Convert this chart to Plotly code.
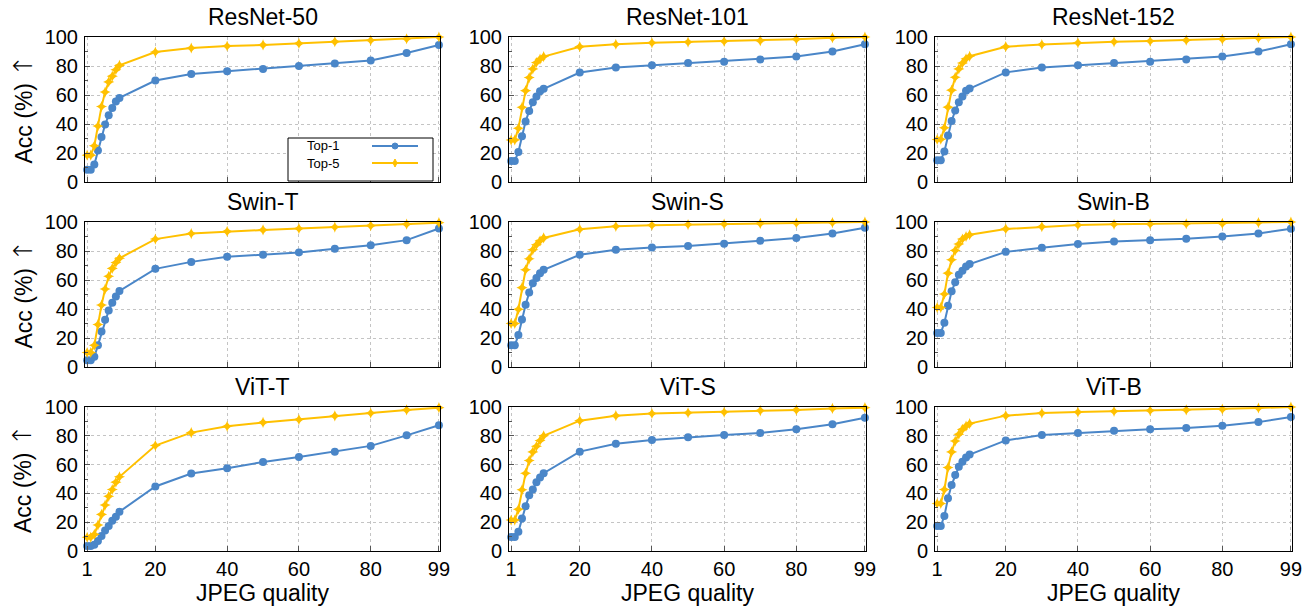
import plotly.graph_objects as go

quality = [1, 2, 3, 4, 5, 6, 7, 8, 9, 10, 20, 30, 40, 50, 60, 70, 80, 90, 99]

models = ["ResNet-50", "ResNet-101", "ResNet-152",
          "Swin-T", "Swin-S", "Swin-B",
          "ViT-T", "ViT-S", "ViT-B"]

resnet50_top1 = [8.5, 8.5, 12, 21.7, 31, 39.7, 46, 51, 55.5, 58, 70, 74.5, 76.4, 78, 80, 81.8, 83.8, 89, 94.5]
resnet50_top5 = [18.5, 18.5, 25, 38.6, 52, 62, 69, 73, 77.4, 80.4, 89.6, 92.4, 93.8, 94.5, 95.6, 96.8, 97.7, 98.8, 100]

resnet101_top1 = [14.5, 14.5, 20.7, 31.6, 41.8, 49, 55, 59, 62.6, 64.3, 75.5, 79, 80.5, 82, 83, 84.5, 86.5, 90, 95]
resnet101_top5 = [28.9, 29, 37, 51.5, 63, 72, 78, 82.4, 84.7, 86.5, 93.3, 95, 96, 96.5, 97, 97.5, 98.5, 99.5, 100]

resnet152_top1 = [15, 15, 21, 32, 42, 49.3, 55, 59, 63, 64.4, 75.6, 79, 80.5, 82, 83, 84.5, 86.5, 90, 95]
resnet152_top5 = [29.3, 29.5, 37.4, 51.6, 63.3, 72.2, 78, 82, 85, 86.7, 93.3, 94.8, 96, 96.7, 97.2, 97.8, 98.5, 99.3, 100]

swint_top1 = [4.6, 4.6, 7, 15, 24.5, 32.6, 39, 44.3, 48.7, 52.4, 67.7, 72.5, 76, 77.5, 79, 81.5, 84, 87.5, 95.5]
swint_top5 = [10, 10, 15, 29.3, 42.7, 53.8, 62.6, 68, 72, 75, 88.2, 92, 93.5, 94.5, 95.5, 96.5, 97.5, 98.5, 99.5]

swins_top1 = [15, 15, 22, 32.8, 43, 51.3, 57.7, 61.4, 64.7, 67, 77.4, 80.8, 82.5, 83.5, 85, 87, 89, 92, 96]
swins_top5 = [30, 30, 39.8, 54.7, 67, 74.6, 80.8, 84.3, 87, 89, 95, 97, 97.8, 98.2, 98.6, 99, 99.3, 99.6, 100]

swinb_top1 = [23.5, 23.5, 30.5, 42.3, 52.2, 58.4, 63.7, 66.3, 69.3, 71, 79.4, 82.2, 84.8, 86.6, 87.5, 88.5, 90, 92, 95.4]
swinb_top5 = [41, 41, 50.3, 64.7, 73.9, 80.4, 84.8, 88.2, 90, 91.2, 95.2, 96.8, 97.9, 98.4, 98.6, 98.8, 99, 99.6, 100]

vitt_top1 = [3.5, 3.5, 4.4, 7, 10.4, 14.3, 17.3, 21, 23.8, 27.3, 44.8, 53.8, 57.5, 61.8, 65.3, 69, 73, 80.3, 87.3]
vitt_top5 = [9.5, 9.5, 11.5, 18, 25.4, 31.9, 38, 42.7, 47.8, 51.5, 73.2, 82.2, 86.6, 89.3, 91.3, 93.8, 95.8, 98, 99.5]

vits_top1 = [9.7, 9.7, 13.4, 22.6, 31, 38.8, 42.7, 47.8, 51, 54, 69, 74.4, 77, 79, 80.5, 82, 84.5, 88, 92.5]
vits_top5 = [21.5, 21.5, 29, 42.5, 54, 62.8, 68.8, 72.7, 76.7, 80, 90.5, 94, 95.5, 96, 96.5, 97.5, 98, 99, 99.5]

vitb_top1 = [17.4, 17.4, 24.3, 36.7, 45.9, 52.8, 58.5, 62, 65, 67, 76.8, 80.5, 82, 83.5, 84.5, 85.5, 87, 89.5, 93]
vitb_top5 = [33, 33, 42.7, 58, 68.8, 76.4, 81, 84.4, 86.7, 88.5, 94, 95.8, 96.5, 97, 97.5, 98, 98.5, 99.3, 100]

top1_series = [resnet50_top1, resnet101_top1, resnet152_top1,
               swint_top1, swins_top1, swinb_top1,
               vitt_top1, vits_top1, vitb_top1]
top5_series = [resnet50_top5, resnet101_top5, resnet152_top5,
               swint_top5, swins_top5, swinb_top5,
               vitt_top5, vits_top5, vitb_top5]

x_tickvals = [1, 20, 40, 60, 80, 99]
y_tickvals = [0, 20, 40, 60, 80, 100]

W, H = 1306, 608
BLUE = "#4a86c8"
YELLOW = "#ffc000"
FONT = "Liberation Sans, Arial, sans-serif"

col_px = [(85, 440), (509, 866), (935, 1292)]
row_px = [(37, 182), (222, 367), (407, 551)]

fig = go.Figure()
annotations = []
shapes = []

for i, name in enumerate(models):
    r, c = divmod(i, 3)
    idx = i + 1
    xa = "x" if idx == 1 else f"x{idx}"
    ya = "y" if idx == 1 else f"y{idx}"
    fig.add_trace(go.Scatter(
        x=quality, y=top1_series[i], xaxis=xa, yaxis=ya, mode="lines+markers",
        line=dict(color=BLUE, width=2), marker=dict(symbol="circle", size=8, color=BLUE),
        cliponaxis=False, showlegend=False, name="Top-1"))
    fig.add_trace(go.Scatter(
        x=quality, y=top5_series[i], xaxis=xa, yaxis=ya, mode="lines+markers",
        line=dict(color=YELLOW, width=2), marker=dict(symbol="star-diamond", size=8, color=YELLOW),
        cliponaxis=False, showlegend=False, name="Top-5"))

    x0, x1 = col_px[c]
    y0, y1 = row_px[r]
    xdom = [x0 / W, x1 / W]
    ydom = [1 - y1 / H, 1 - y0 / H]
    bottom = (r == 2)
    axis_common = dict(showline=True, linecolor="black", linewidth=1, mirror=True,
                       gridcolor="#c4c4c4", griddash="3px,3px", gridwidth=1,
                       ticks="inside", ticklen=5, tickcolor="#555555", zeroline=False,
                       automargin=False,
                       tickfont=dict(family=FONT, size=20, color="black"))
    fig.layout[f"xaxis{idx if idx > 1 else ''}"] = dict(
        domain=xdom, anchor=ya, range=[0.4, 99.3], tickmode="array",
        tickvals=x_tickvals, showticklabels=bottom, **axis_common)
    fig.layout[f"yaxis{idx if idx > 1 else ''}"] = dict(
        domain=ydom, anchor=xa, range=[0, 100], tickmode="array",
        tickvals=y_tickvals, ticklabelstandoff=2,
        minor=dict(tickvals=[10, 30, 50, 70, 90], ticks="inside", ticklen=3,
                   tickcolor="#555555", showgrid=False),
        **axis_common)

    annotations.append(dict(text=name, x=(x0 + x1) / 2 / W, y=1 - (y0 - 20) / H,
                            xref="paper", yref="paper", showarrow=False,
                            xanchor="center", yanchor="middle",
                            font=dict(family=FONT, size=23, color="black")))
    if c == 0:
        annotations.append(dict(
            text="Acc (%) <span style='font-family:DejaVu Sans;font-weight:200;font-size:26px'>↑</span>",
            x=22 / W, y=1 - (y0 + y1) / 2 / H,
            xref="paper", yref="paper", showarrow=False, textangle=-90,
            xanchor="center", yanchor="middle",
            font=dict(family=FONT, size=23, color="black")))
    if bottom:
        annotations.append(dict(text="JPEG quality", x=(x0 + x1) / 2 / W, y=1 - 593 / H,
                                xref="paper", yref="paper", showarrow=False,
                                xanchor="center", yanchor="middle",
                                font=dict(family=FONT, size=23, color="black")))

# custom legend (text left, sample right) inside the first panel
lx0, lx1, ly0, ly1 = 288, 433, 138, 181
shapes.append(dict(type="rect", xref="paper", yref="paper",
                   x0=lx0 / W, x1=lx1 / W, y0=1 - ly1 / H, y1=1 - ly0 / H,
                   line=dict(color="black", width=1), fillcolor="white", layer="above"))
for k, (lab, col) in enumerate([("Top-1", BLUE), ("Top-5", YELLOW)]):
    yy = 146 + k * 17
    annotations.append(dict(text=lab, x=305 / W, y=1 - yy / H, xref="paper", yref="paper",
                            showarrow=False, xanchor="left", yanchor="middle",
                            font=dict(family=FONT, size=13, color="black")))
    shapes.append(dict(type="line", xref="paper", yref="paper", x0=372 / W, x1=418 / W,
                       y0=1 - yy / H, y1=1 - yy / H, line=dict(color=col, width=2), layer="above"))
    if k == 0:
        shapes.append(dict(type="circle", xref="paper", yref="paper",
                           x0=392 / W, x1=398 / W, y0=1 - (yy + 3) / H, y1=1 - (yy - 3) / H,
                           line=dict(color=col, width=1), fillcolor=col, layer="above"))
    else:
        cx, cy = 395, yy
        path = (f"M {cx/W},{1-(cy-4)/H} L {(cx+2)/W},{1-cy/H} L {cx/W},{1-(cy+4)/H} "
                f"L {(cx-2)/W},{1-cy/H} Z")
        shapes.append(dict(type="path", xref="paper", yref="paper", path=path,
                           line=dict(color=col, width=1), fillcolor=col, layer="above"))

fig.update_layout(width=W, height=H, margin=dict(l=0, r=0, t=0, b=0, autoexpand=False),
                  paper_bgcolor="white", plot_bgcolor="white",
                  annotations=annotations, shapes=shapes, showlegend=False,
                  font=dict(family=FONT, color="black"))
fig.write_html("out.html")
